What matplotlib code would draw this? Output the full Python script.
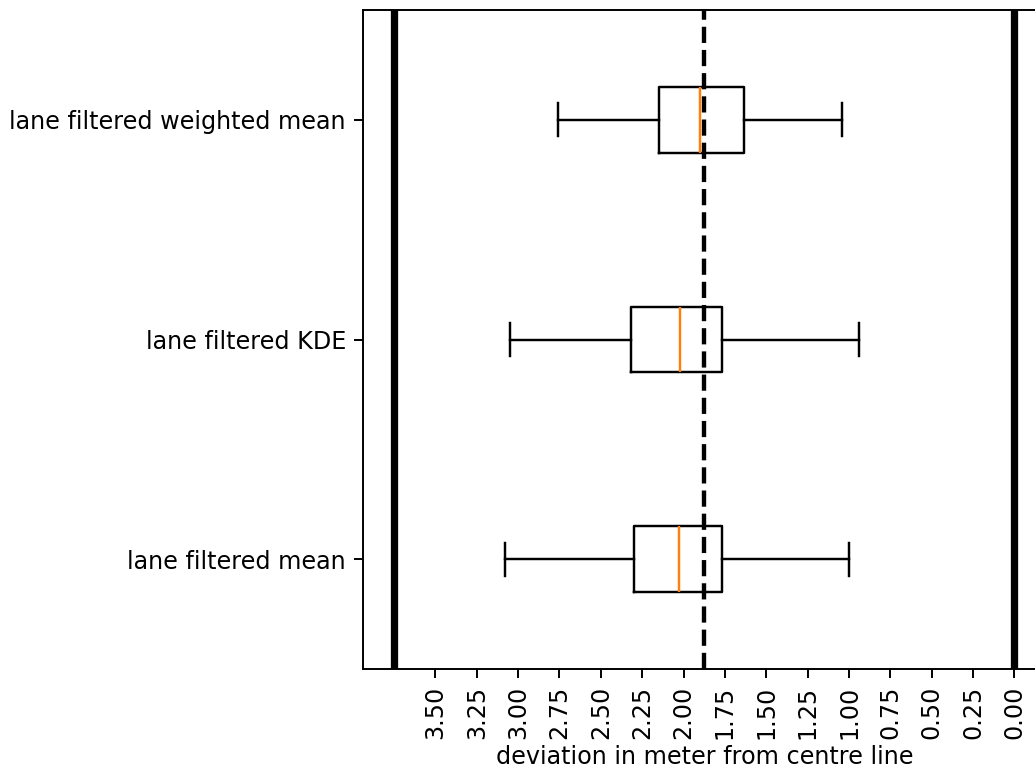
import matplotlib
matplotlib.use("Agg")
import matplotlib.pyplot as plt
import numpy as np

labels = ["lane filtered mean", "lane filtered KDE", "lane filtered weighted mean"]
whislo = [3.08, 3.05, 2.76]
q1 = [2.30, 2.32, 2.15]
med = [2.03, 2.02, 1.90]
q3 = [1.77, 1.765, 1.635]
whishi = [1.00, 0.94, 1.04]

lane_width = 3.75
centre = lane_width / 2
ticks = np.arange(0, 3.75, 0.25)

plt.rcParams["font.size"] = 9.8

stats = []
for i in range(len(labels)):
    stats.append({"label": labels[i], "whislo": whislo[i], "q1": q1[i], "med": med[i],
                  "q3": q3[i], "whishi": whishi[i], "fliers": []})

fig = plt.figure(figsize=(1035 / 175, 771 / 175), dpi=175)
ax = fig.add_axes([363 / 1035, (771 - 669) / 771, (1045.5 - 363) / 1035, (669 - 10) / 771])

ax.bxp(stats, vert=False, widths=0.3)
ax.axvline(0, color="black", linewidth=3)
ax.axvline(lane_width, color="black", linewidth=3)
ax.axvline(centre, color="black", linestyle="--", linewidth=1.8)

ax.set_xlim(lane_width * 1.05, -lane_width * 0.05)
ax.set_ylim(0.5, 3.5)
ax.set_xticks(ticks)
ax.set_xticklabels(["%.2f" % t for t in ticks], rotation=90)
ax.set_xlabel("deviation in meter from centre line", labelpad=2.2)

fig.savefig("out.png", dpi=175)
